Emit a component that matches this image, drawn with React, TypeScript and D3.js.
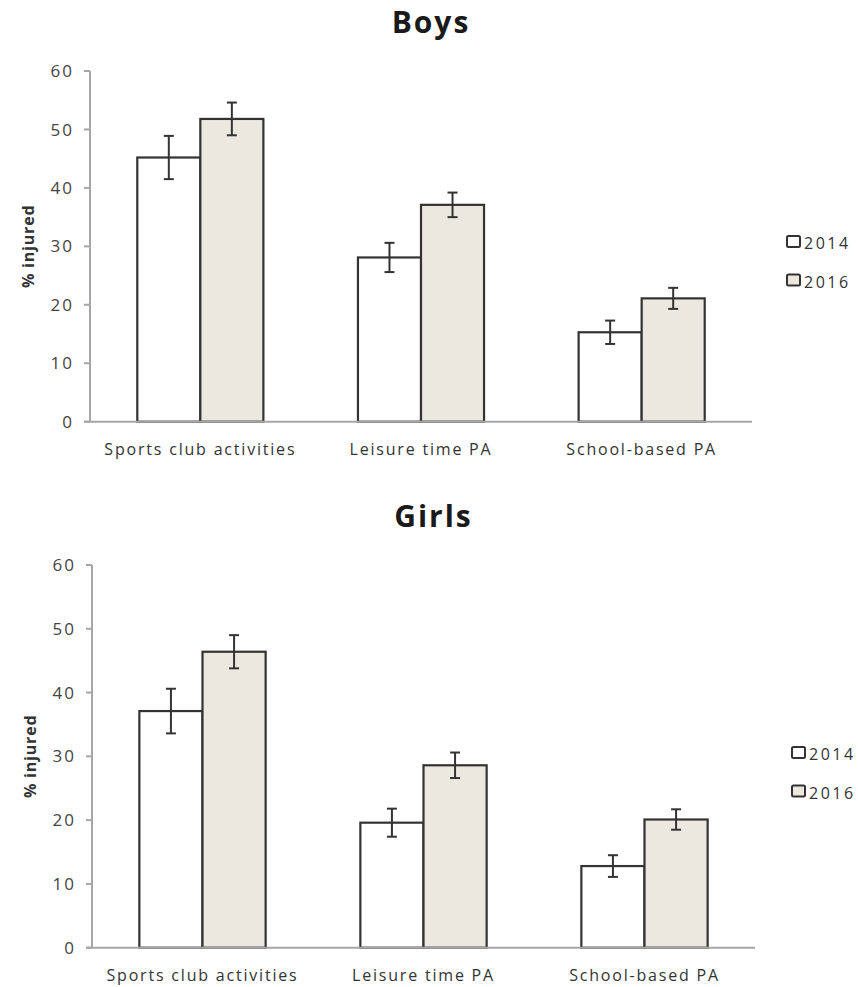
import React from "react"
import * as d3 from "d3"

const categories = ["Sports club activities", "Leisure time PA", "School-based PA"]
const years = ["2014", "2016"]
const yTicks = [0, 10, 20, 30, 40, 50, 60]

// values, % injured
const boys2014 = [45.2, 28.1, 15.3]
const boys2016 = [51.8, 37.1, 21.1]
const boysErr2014 = [3.7, 2.5, 2.0]
const boysErr2016 = [2.8, 2.1, 1.8]

const girls2014 = [37.1, 19.6, 12.8]
const girls2016 = [46.4, 28.6, 20.1]
const girlsErr2014 = [3.5, 2.2, 1.7]
const girlsErr2016 = [2.6, 2.0, 1.6]

const fills = ["#ffffff", "#ebe8df"]
const font = "'Open Sans', sans-serif"

type PanelProps = {
  title: string
  titleY: number
  left: number
  right: number
  top: number
  bottom: number
  labelY: number
  legendX: number
  legendY: number
  series: number[][]
  errors: number[][]
}

function Panel(p: PanelProps) {
  const x0 = d3.scaleBand().domain(categories).range([p.left, p.right]).paddingInner(0.4286).paddingOuter(0.2143)
  const x1 = d3.scaleBand().domain(years).range([0, x0.bandwidth()])
  const y = d3.scaleLinear().domain([0, 60]).range([p.bottom, p.top])
  const cap = 5

  return (
    <g>
      <text x={(p.left + p.right) / 2 + 10} y={p.titleY} textAnchor="middle" fontFamily={font} fontWeight="bold" fontSize={30} letterSpacing={2} fill="#1a1a1a">
        {p.title}
      </text>
      {/* y axis */}
      <line x1={p.left} x2={p.left} y1={p.top} y2={p.bottom} stroke="#a6a6a6" strokeWidth={2} />
      {yTicks.map((t) => (
        <g key={t}>
          <line x1={p.left - 6} x2={p.left} y1={y(t)} y2={y(t)} stroke="#a6a6a6" strokeWidth={2} />
          <text x={p.left - 16} y={y(t)} dy="0.36em" textAnchor="end" fontFamily={font} fontSize={17} fill="#444" letterSpacing={2}>
            {t}
          </text>
        </g>
      ))}
      <text
        transform={`translate(${p.left - 62},${(p.top + p.bottom) / 2}) rotate(-90)`}
        textAnchor="middle"
        dy="0.35em"
        fontFamily={font}
        fontWeight="bold"
        fontSize={16}
        letterSpacing={0.8}
        fill="#333"
      >
        % injured
      </text>
      {/* bars */}
      {categories.map((c, i) => (
        <g key={c} transform={`translate(${x0(c)},0)`}>
          {years.map((yr, j) => {
            const v = p.series[j][i]
            const e = p.errors[j][i]
            const bx = x1(yr) as number
            const cx = bx + x1.bandwidth() / 2
            return (
              <g key={yr}>
                <rect x={bx} y={y(v)} width={x1.bandwidth()} height={p.bottom - y(v)} fill={fills[j]} stroke="#333" strokeWidth={2.2} />
                <line x1={cx} x2={cx} y1={y(v + e)} y2={y(v - e)} stroke="#333" strokeWidth={2} />
                <line x1={cx - cap} x2={cx + cap} y1={y(v + e)} y2={y(v + e)} stroke="#333" strokeWidth={2} />
                <line x1={cx - cap} x2={cx + cap} y1={y(v - e)} y2={y(v - e)} stroke="#333" strokeWidth={2} />
              </g>
            )
          })}
          <text x={x0.bandwidth() / 2} y={p.labelY} textAnchor="middle" fontFamily={font} fontSize={16} letterSpacing={1.8} fill="#333">
            {c}
          </text>
        </g>
      ))}
      {/* x axis */}
      <line x1={p.left - 6} x2={p.right} y1={p.bottom} y2={p.bottom} stroke="#a6a6a6" strokeWidth={2} />
      {/* legend */}
      {years.map((yr, j) => (
        <g key={yr} transform={`translate(${p.legendX},${p.legendY + j * 38.5})`}>
          <rect x={0} y={0} width={13} height={11} rx={1.5} fill={fills[j]} stroke="#333" strokeWidth={2} />
          <text x={17} y={13} fontFamily={font} fontSize={16} fill="#333" letterSpacing={2.5}>
            {yr}
          </text>
        </g>
      ))}
    </g>
  )
}

export default function App() {
  return (
    <div style={{ position: "absolute", left: 0, top: 0 }}>
      <svg width={858} height={987} style={{ display: "block", background: "#fff" }}>
        <Panel
          title="Boys"
          titleY={33}
          left={90}
          right={752}
          top={71}
          bottom={421.7}
          labelY={455}
          legendX={787}
          legendY={236}
          series={[boys2014, boys2016]}
          errors={[boysErr2014, boysErr2016]}
        />
        <Panel
          title="Girls"
          titleY={527}
          left={92}
          right={755}
          top={565}
          bottom={947.7}
          labelY={981}
          legendX={792}
          legendY={747}
          series={[girls2014, girls2016]}
          errors={[girlsErr2014, girlsErr2016]}
        />
      </svg>
    </div>
  )
}
